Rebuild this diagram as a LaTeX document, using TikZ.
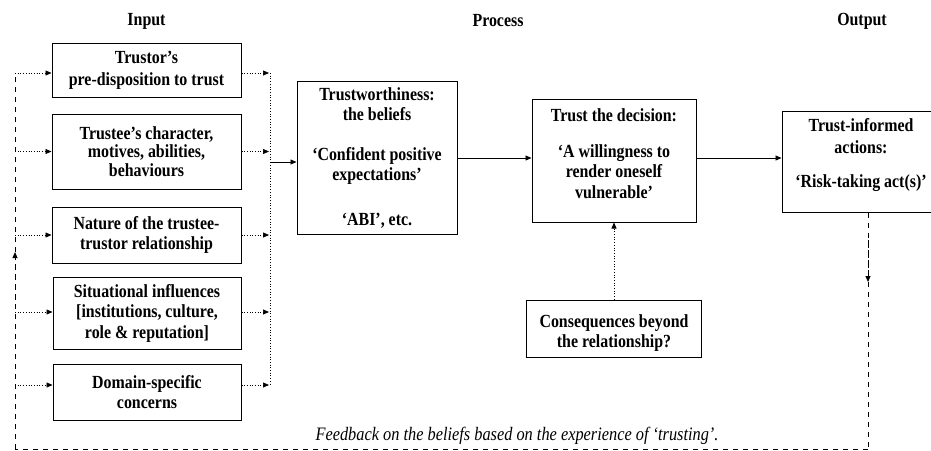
\documentclass[tikz,border=0pt]{standalone}
\usepackage{fontspec}
\setmainfont{Liberation Serif}[FakeStretch=0.86]
\usetikzlibrary{arrows.meta,calc}
\tikzset{
  x=1pt,y=-1pt,
  bfnt/.style={font=\bfseries\fontsize{18.5}{20.5}\selectfont},
  boxnode/.style={draw, line width=1pt, inner sep=0pt, align=center, bfnt},
  txt/.style={align=center, bfnt, inner sep=0pt},
  tip/.style={-{Triangle[length=6pt,width=5pt]}},
  dotarr/.style={dotted, line width=0.7pt, tip},
  dotln/.style={dotted, line width=0.7pt},
  solarr/.style={line width=0.9pt, tip},
  dashln/.style={line width=0.9pt, dash pattern=on 5pt off 5pt},
}
\begin{document}
\begin{tikzpicture}
\useasboundingbox (0,0) rectangle (931,450);
\clip (0,0) rectangle (931,450);
% titles
\node[txt] (tIn) at (146.5,21) {Input};
\node[txt] (tProc) at (498,21) {Process};
\node[txt] (tOut) at (862,21) {Output};
% input boxes
\node[boxnode, minimum width=189, minimum height=54, font=\bfseries\fontsize{18.5}{22}\selectfont] (b1) at (146.5,70) {Trustor's\\pre-disposition to trust};
\node[boxnode, minimum width=189, minimum height=75, font=\bfseries\fontsize{18.5}{18.5}\selectfont] (b2) at (146.5,151.5) {Trustee's character,\\motives, abilities,\\behaviours};
\node[boxnode, minimum width=189, minimum height=56] (b3) at (146.5,235) {Nature of the trustee-\\trustor relationship};
\node[boxnode, minimum width=188, minimum height=72] (b4) at (147,313) {Situational influences\\{}[institutions, culture,\\role \& reputation]};
\node[boxnode, minimum width=188, minimum height=56] (b5) at (147,392) {Domain-specific\\concerns};
% process boxes
\node[boxnode, minimum width=160, minimum height=153] (tw) at (377,158) {Trustworthiness:\\the beliefs\\[19pt]`Confident positive\\expectations'\\[24pt]`ABI', etc.};
\node[boxnode, minimum width=164, minimum height=123] (dec) at (614,160.5) {};
\node[txt] (decT) at (614,153.5) {Trust the decision:\\[15pt]`A willingness to\\render oneself\\vulnerable'};
\node[boxnode, minimum width=158, minimum height=101] (out) at (861,161.5) {};
\node[txt, font=\bfseries\fontsize{18.5}{22.5}\selectfont] (outT) at (861,155) {Trust-informed\\actions:\\[11pt]`Risk-taking act(s)'};
\node[boxnode, minimum width=175, minimum height=57] (cons) at (614,328.5) {};
\node[txt] (consT) at (614,333) {Consequences beyond\\the relationship?};
% feedback text
\node[font=\itshape\fontsize{19}{20}\selectfont, inner sep=0pt] (fb) at (517,436) {Feedback on the beliefs based on the experience of `trusting'.};
% coordinates
\coordinate (Lt) at (15,73);
\coordinate (Lm) at (15,252);
\coordinate (Lb) at (15,449);
\coordinate (Rt) at (270,73);
\coordinate (Rb) at (270,385);
\coordinate (Rm) at (270,162);
\coordinate (Ox) at (868,212);
\coordinate (Om) at (868,282);
\coordinate (Ob) at (868,449);
% left feedback column
\draw[dashln] (Lb) -- (Lm);
\draw[dashln, tip] (15,300) -- (Lm);
\draw[dashln] (Lm) -- (Lt);
\draw[dotarr] (Lt) -- (Lt -| b1.west);
\draw[dotarr] (b2.west -| Lt) -- (b2.west);
\draw[dotarr] (b3.west -| Lt) -- (b3.west);
\draw[dotarr] ([yshift=1pt]b4.west -| Lt) -- ([yshift=1pt]b4.west);
\draw[dotarr] ([yshift=7pt]b5.west -| Lt) -- ([yshift=7pt]b5.west);
% right collector
\draw[dotarr] (Lt -| b1.east) -- ([xshift=-1pt]Rt);
\draw[dotarr] (b2.east) -- ([xshift=-1pt]b2.east -| Rt);
\draw[dotarr] (b3.east) -- ([xshift=-1pt]b3.east -| Rt);
\draw[dotarr] ([yshift=1pt]b4.east) -- ([xshift=-1pt,yshift=1pt]b4.east -| Rt);
\draw[dotarr] ([yshift=7pt]b5.east) -- ([xshift=-1pt]Rb);
\draw[dotln] (Rt) -- (Rb);
\draw[solarr] (Rm) -- (Rm -| tw.west);
% process arrows
\draw[solarr] (tw.east) -- (tw.east -| dec.west);
\draw[solarr] (tw.east -| dec.east) -- (tw.east -| out.west);
\draw[dotarr] (cons.north) -- (dec.south);
% output down
\draw[dashln] (Ox |- out.south) -- (Om);
\draw[dashln, tip] (868,240) -- (Om);
\draw[dashln] (Om) -- (Ob);
% feedback line
\draw[dashln] (Ob) -- (Lb);
\end{tikzpicture}
\end{document}
